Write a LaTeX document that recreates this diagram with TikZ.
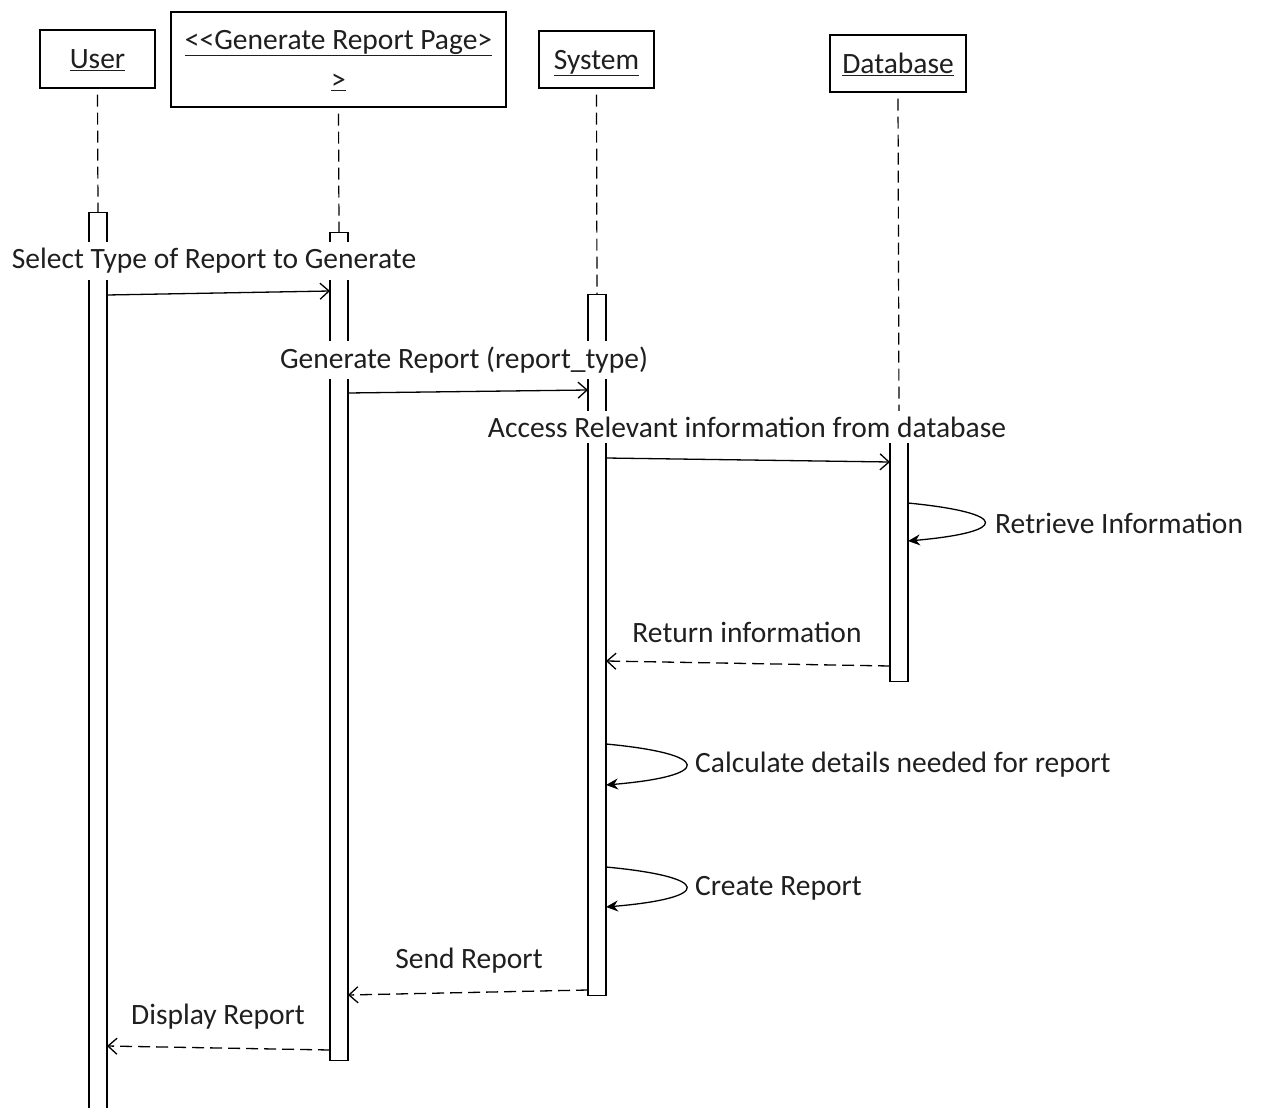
\documentclass[tikz,border=0pt]{standalone}
\usepackage{fontspec}
\setmainfont{Carlito}
\usetikzlibrary{arrows.meta}
\begin{document}
\begin{tikzpicture}[x=1pt,y=-1pt,
  every node/.style={font=\fontsize{29.5}{40}\selectfont, text=black!88},
  obj/.style={draw, line width=1.4pt, fill=white, inner sep=0pt, text depth=0pt},
  bar/.style={draw, line width=1.4pt, fill=white, minimum width=18pt, inner sep=0pt, anchor=north},
  life/.style={line width=1.2pt, dash pattern=on 12pt off 6pt, dash phase=12pt},
  msg/.style={line width=1.3pt, -{Straight Barb[length=9pt,width=16pt]}},
  reply/.style={msg, dash pattern=on 12pt off 6pt},
  selfmsg/.style={line width=1.3pt, -{Stealth[length=12pt,width=11pt]}},
  lbl/.style={fill=white, inner xsep=2pt, inner ysep=6pt},
]
\useasboundingbox (0,0) rectangle (1262,1108);

% participants
\node[obj, minimum width=115pt, minimum height=58pt] (user) at (97.5,59) {\underline{User}};
\node[obj, minimum width=335pt, minimum height=95pt, align=center] (page) at (338.5,59.5)
  {\underline{<{}<Generate Report Page>}\\\underline{>}};
\node[obj, minimum width=115pt, minimum height=57pt] (sys) at (596.5,59.5) {\underline{System}};
\node[obj, minimum width=136pt, minimum height=57pt] (db) at (898,63.5) {\underline{Database}};

% activation bars
\node[bar, minimum height=905pt] (userbar) at (98,212) {};
\node[bar, minimum height=828pt] (pagebar) at (339,232) {};
\node[bar, minimum height=701pt] (sysbar) at (597,294) {};
\node[bar, minimum height=261pt] (dbbar) at (899,420) {};

% lifelines
\draw[life] (user.south) -- (userbar.north);
\draw[life] (page.south) -- (pagebar.north);
\draw[life] (sys.south) -- (sysbar.north);
\draw[life] (db.south) -- (dbbar.north);

% message labels (white background hides the bars behind them)
\node[lbl] (l1) at (214,261) {Select Type of Report to Generate};
\node[lbl] (l2) at (464,360) {Generate Report (report\_type)};
\node[lbl] (l3) at (747,427) {Access Relevant information from database};
\node[lbl, anchor=west] (l4) at (993,523) {Retrieve Information};
\node[lbl] (l5) at (747,632) {Return information};
\node[lbl, anchor=west] (l6) at (693,765) {Calculate details needed for report};
\node[lbl, anchor=west] (l7) at (693,888) {Create Report};
\node[lbl] (l8) at (469,961) {Send Report};
\node[lbl] (l9) at (218,1017) {Display Report};

% message end points
\coordinate (m1s) at (107,295);
\coordinate (m1e) at (330,291);
\coordinate (m2s) at (348,393);
\coordinate (m2e) at (588,390);
\coordinate (m3s) at (606,458);
\coordinate (m3e) at (890,462);
\coordinate (r1s) at (908,503);
\coordinate (r1e) at (908,541);
\coordinate (m5s) at (890,666);
\coordinate (m5e) at (606,661);
\coordinate (c1s) at (606,744);
\coordinate (c1e) at (606,785);
\coordinate (c2s) at (606,867);
\coordinate (c2e) at (606,907);
\coordinate (m8s) at (588,990);
\coordinate (m8e) at (348,995);
\coordinate (m9s) at (330,1050);
\coordinate (m9e) at (107,1046);

% messages
\draw[msg] (m1s) -- (m1e);
\draw[msg] (m2s) -- (m2e);
\draw[msg] (m3s) -- (m3e);
\draw[selfmsg] (r1s) .. controls (1010,513) and (1010,532) .. (r1e);
\draw[reply] (m5s) -- (m5e);
\draw[selfmsg] (c1s) .. controls (713,754) and (713,776) .. (c1e);
\draw[selfmsg] (c2s) .. controls (713,877) and (713,898) .. (c2e);
\draw[reply] (m8s) -- (m8e);
\draw[reply] (m9s) -- (m9e);
\end{tikzpicture}
\end{document}
